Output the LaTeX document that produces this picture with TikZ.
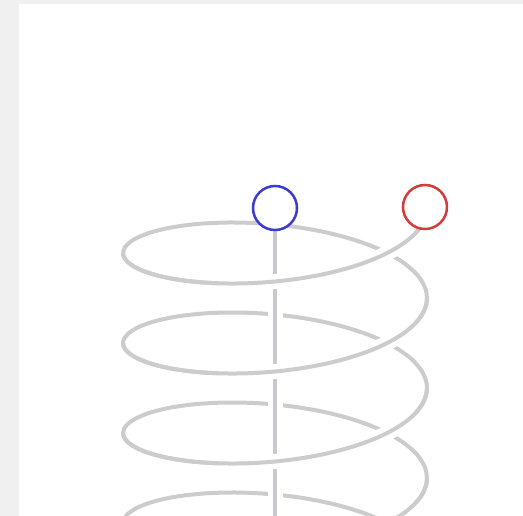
\documentclass[tikz,border=0pt]{standalone}
\usetikzlibrary{calc}
\definecolor{pagegray}{HTML}{F0F0F0}
\definecolor{coilgray}{HTML}{CCCCCC}
\definecolor{axisgray}{HTML}{C8C8D0}
\definecolor{endblue}{RGB}{60,60,210}
\definecolor{endred}{RGB}{210,60,60}
\tikzset{
  coil/.style={draw=coilgray, line width=4pt, line cap=butt},
  halo/.style={draw=white, line width=15pt, line cap=butt},
  axisline/.style={draw=axisgray, line width=3.5pt},
  endpoint/.style={circle, minimum size=44pt, inner sep=0pt, line width=2.5pt, fill=white},
}
\newcommand{\helixpath}[2]{plot[domain=#1:#2, samples=120, smooth, variable=\t] ({275+152*cos(\t)}, {208+\t/4+51*sin(\t)})}
\begin{document}
\begin{tikzpicture}[x=1pt, y=-1pt]
  \useasboundingbox (0,0) rectangle (523,516);
  \fill[pagegray] (0,0) rectangle (523,516);
  \fill[white] (19,4) rectangle (523,516);
  \begin{scope}
    \clip (19,4) rectangle (523,516);
    % whole coil (back parts stay as drawn here)
    \draw[coil] \helixpath{0}{1500};
    % central axis: over the back parts
    \coordinate (axisbottom) at (275,530);
    \coordinate (axistop) at (275,230);
    \draw[halo] (axistop) -- (axisbottom);
    \draw[axisline] (axistop) -- (axisbottom);
    % front parts: over the axis and over the back parts
    \foreach \k in {0,1,2,3}{
      \draw[halo] \helixpath{360*\k+22}{360*\k+112};
      \draw[coil] \helixpath{360*\k}{360*\k+180};
    }
  \end{scope}
  \node[endpoint, draw=endblue] (blue) at (275,208) {};
  \node[endpoint, draw=endred] (red) at (425,207) {};
\end{tikzpicture}
\end{document}
